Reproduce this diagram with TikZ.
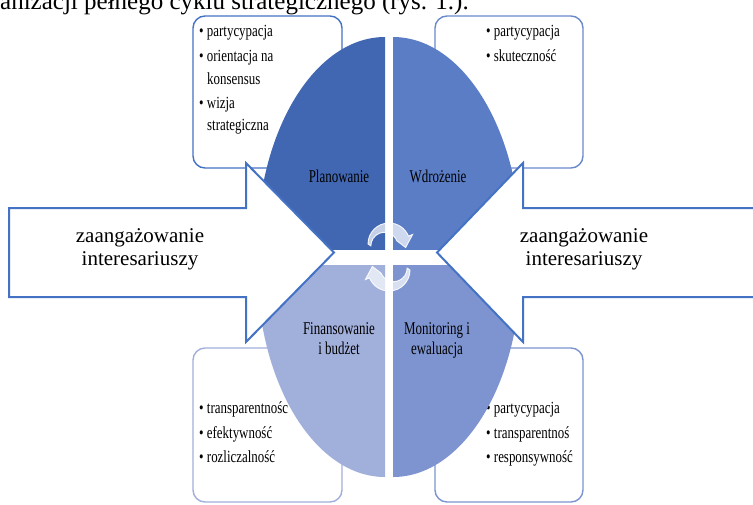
\documentclass[tikz,border=0pt]{standalone}
\usepackage{fontspec}
\setmainfont{Liberation Serif}
\usepackage{graphicx}
\usetikzlibrary{calc}
\definecolor{qTL}{HTML}{4167B2}
\definecolor{qTR}{HTML}{5B7DC6}
\definecolor{qBL}{HTML}{A1AFDB}
\definecolor{qBR}{HTML}{7D94D0}
\definecolor{arrowblue}{HTML}{4472C4}
\newcommand\sqzA[1]{\scalebox{0.76}[1]{#1}}
\newcommand\sqzB[1]{\scalebox{0.72}[1]{#1}}
\begin{document}
\begin{tikzpicture}[x=1pt,y=-1pt,
  boxstyle/.style={fill=white,line width=1.4pt,rounded corners=12pt},
  btxt/.style={inner sep=0pt,anchor=base west,font=\fontsize{17}{19}\selectfont},
  qtxt/.style={inner sep=0pt,anchor=base,font=\fontsize{18}{20}\selectfont},
  stxt/.style={inner sep=0pt,anchor=base,font=\fontsize{21}{24}\selectfont},
  bigarrow/.style={fill=white,draw=arrowblue,line width=2pt,line join=miter},
  cycarrow/.style={fill=white,fill opacity=0.7,draw=white,draw opacity=0.9,line width=0.9pt}]
\useasboundingbox (0,0) rectangle (753,504);
\fill[white] (0,0) rectangle (753,504);

% cut-off caption line at the top
\node[inner sep=0pt,anchor=base west,font=\fontsize{25}{28}\selectfont] (cap) at (0,9) {anizacji pełnego cyklu strategicznego (rys. 1.).};

% corner boxes
\draw[boxstyle,draw=arrowblue] (193,16) rectangle (342,168);
\draw[boxstyle,draw=qTR!90] (435,16) rectangle (583,168);
\draw[boxstyle,draw=qBL] (193,348) rectangle (342,502);
\draw[boxstyle,draw=qBR] (435,348) rectangle (583,502);

% box texts
\node[btxt] (tl1) at (199,36) {\sqzA{• partycypacja}};
\node[btxt] (tl2) at (199,61) {\sqzA{• orientacja na}};
\node[btxt] (tl3) at (207,84) {\sqzA{konsensus}};
\node[btxt] (tl4) at (199,108) {\sqzA{• wizja}};
\node[btxt] (tl5) at (207,130) {\sqzA{strategiczna}};
\node[btxt] (tr1) at (486,36) {\sqzA{• partycypacja}};
\node[btxt] (tr2) at (486,61) {\sqzA{• skuteczność}};
\node[btxt] (bl1) at (199,413) {\sqzA{• transparentnośc}};
\node[btxt] (bl2) at (199,438) {\sqzA{• efektywność}};
\node[btxt] (bl3) at (199,462) {\sqzA{• rozliczalność}};
\node[btxt] (br1) at (486,413) {\sqzA{• partycypacja}};
\node[btxt] (br2) at (486,438) {\sqzA{• transparentnoś}};
\node[btxt] (br3) at (486,462) {\sqzA{• responsywność}};

% quadrants
\begin{scope}
  \clip (200,0) rectangle (385,249);
  \fill[qTL] (385,249) ellipse [x radius=128, y radius=212];
\end{scope}
\begin{scope}
  \clip (393,0) rectangle (600,249);
  \fill[qTR] (393,249) ellipse [x radius=128, y radius=212];
\end{scope}
\begin{scope}
  \clip (200,265) rectangle (385,504);
  \fill[qBL] (385,265) ellipse [x radius=128, y radius=212];
\end{scope}
\begin{scope}
  \clip (393,265) rectangle (600,504);
  \fill[qBR] (393,265) ellipse [x radius=128, y radius=212];
\end{scope}

% big arrows
\draw[bigarrow] (9,208) -- (246,208) -- (246,163) -- (334,252.5) -- (246,342) -- (246,297) -- (9,297) -- cycle;
\draw[bigarrow] (770,208) -- (523,208) -- (523,163) -- (437,252.5) -- (523,342) -- (523,297) -- (770,297) -- cycle;

\node[stxt] (l1) at (140,242) {zaangażowanie};
\node[stxt] (l2) at (140,265) {interesariuszy};
\node[stxt] (r1) at (584,242) {zaangażowanie};
\node[stxt] (r2) at (584,265) {interesariuszy};

% quadrant labels
\node[qtxt] (qa) at (339,182) {\sqzB{Planowanie}};
\node[qtxt] (qb) at (438,182) {\sqzB{Wdrożenie}};
\node[qtxt] (qc1) at (339,334) {\sqzB{Finansowanie}};
\node[qtxt] (qc2) at (339,354) {\sqzB{i budżet}};
\node[qtxt] (qd1) at (437,334) {\sqzB{Monitoring i}};
\node[qtxt] (qd2) at (437,354) {\sqzB{ewaluacja}};

% circular arrows
\coordinate (cu) at (389,244);
\coordinate (cl) at (389,270);
\draw[cycarrow] ([shift={(180:21)}]cu) arc[start angle=180,end angle=338,radius=21]
  -- ([shift={(338:25.5)}]cu) -- ([shift={(12:17)}]cu) -- ([shift={(338:8.5)}]cu)
  arc[start angle=338,end angle=180,radius=13.5] -- cycle;
\draw[cycarrow] ([shift={(0:21)}]cl) arc[start angle=0,end angle=158,radius=21]
  -- ([shift={(158:25.5)}]cl) -- ([shift={(192:17)}]cl) -- ([shift={(158:8.5)}]cl)
  arc[start angle=158,end angle=0,radius=13.5] -- cycle;
\end{tikzpicture}
\end{document}
